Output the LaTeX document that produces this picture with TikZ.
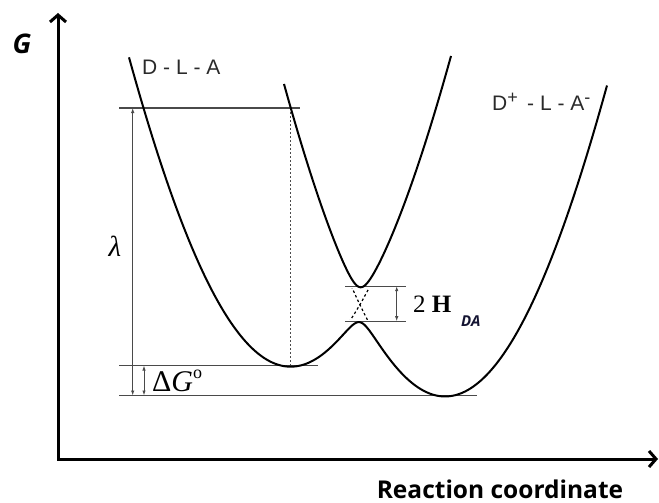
\documentclass[tikz,border=0pt]{standalone}
\usepackage{fontspec}
\setmainfont{Liberation Serif}
\newfontfamily\osans{Open Sans}
\newfontfamily\lsans{Liberation Sans}
\usetikzlibrary{arrows.meta}
\definecolor{lvl}{HTML}{4A4A4A}
\definecolor{lab}{HTML}{2A2A2A}
\definecolor{navy}{HTML}{141432}
\newcommand{\supr}[1]{\raisebox{0.36em}{\fontsize{18}{18}\selectfont #1}}
\begin{document}
\begin{tikzpicture}[x=1pt,y=-1pt,
  declare function={
    fq(\u)=125.76*\u*\u-2.585*\u*\u*\u*\u;
    Ea(\x)=365.5-fq((\x-290)/100);
    Eb(\x)=395.5-fq((\x-445.5)/100);
    Dd(\x)=(Ea(\x)-Eb(\x))/20;
    lowc(\x)=(Ea(\x)+Eb(\x))/2+10*sqrt(Dd(\x)*Dd(\x)+3.0625);
    upc(\x)=(Ea(\x)+Eb(\x))/2-10*sqrt(Dd(\x)*Dd(\x)+3.0625);
  },
  curve/.style={line width=2pt,black,line join=round},
  level/.style={line width=1.4pt,draw=lvl},
  dimarrow/.style={line width=0.9pt,draw=lvl,{Latex[length=5pt,width=3.5pt]}-{Latex[length=5pt,width=3.5pt]}},
  axisline/.style={line width=3pt,line join=miter,{Straight Barb[length=7pt,width=16pt]}-{Straight Barb[length=7pt,width=16pt]}},
  dotline/.style={line width=1pt,draw=lvl,dash pattern=on 1.5pt off 2.5pt},
  crossdash/.style={line width=1.2pt,black,dash pattern=on 2.5pt off 2.5pt},
  sanslab/.style={text=lab,inner sep=0pt,anchor=west,font=\lsans\fontsize{21}{21}\selectfont},
]
\useasboundingbox (0,0) rectangle (659,503);

% axes
\coordinate (O) at (58,459);
\coordinate (Ytip) at (58,13);
\coordinate (Xtip) at (658,459);
\draw[axisline] (Ytip) -- (O) -- (Xtip);
\node (G) at (22,44) {\osans\bfseries\itshape\fontsize{27}{27}\selectfont G};
\node[anchor=base,inner sep=0pt] (RC) at (500,498) {\osans\bfseries\fontsize{24.5}{24.5}\selectfont Reaction coordinate};

% level lines
\coordinate (lamL) at (119,108);   \coordinate (lamR) at (300,108);
\coordinate (g1L) at (119,365.5);  \coordinate (g1R) at (318,365.5);
\coordinate (g2L) at (119,395.5);  \coordinate (g2R) at (477,395.5);
\coordinate (hT1) at (345,286.2);  \coordinate (hT2) at (406,286.2);
\coordinate (hB1) at (345,321.2);  \coordinate (hB2) at (406,321.2);
\draw[level] (lamL) -- (lamR);
\draw[level] (g1L) -- (g1R);
\draw[level] (g2L) -- (g2R);
\draw[level] (hT1) -- (hT2);
\draw[level] (hB1) -- (hB2);

% dotted vertical
\coordinate (dotT) at (290,108);
\coordinate (dotB) at (290,365.5);
\draw[dotline] (dotT) -- (dotB);

% dimension arrows
\coordinate (lamA) at (132.7,108);   \coordinate (lamB) at (132.7,395.5);
\coordinate (dgA) at (144,365.5);    \coordinate (dgB) at (144,395.5);
\coordinate (hA) at (396.7,286.2);   \coordinate (hB) at (396.7,321.2);
\draw[dimarrow] (lamA) -- (lamB);
\draw[dimarrow] (dgA) -- (dgB);
\draw[dimarrow] (hA) -- (hB);

% curves
\draw[curve] plot[domain=129:607,samples=320] (\x,{lowc(\x)});
\draw[curve] plot[domain=284:451,samples=200] (\x,{upc(\x)});
\begin{scope}
  \clip (340,288) rectangle (385,319.5);
  \draw[crossdash] plot[domain=340:382,samples=40] (\x,{Ea(\x)});
  \draw[crossdash] plot[domain=338:380,samples=40] (\x,{Eb(\x)});
\end{scope}

% labels
\node (lam) at (115,246) {\fontsize{29}{29}\selectfont\itshape λ};
\node[anchor=west,inner sep=0pt] (dg) at (152,381) {\fontsize{30}{30}\selectfont Δ\textit{G}\raisebox{0.42em}{\fontsize{18}{18}\selectfont o}};
\node[anchor=west,inner sep=0pt] (hh) at (413,304) {\fontsize{25}{25}\selectfont 2 \textbf{H}};
\node[anchor=north west,inner sep=0pt,text=navy] (da) at (461,316) {\osans\bfseries\itshape\fontsize{15}{15}\selectfont DA};
\node[sanslab] (dla) at (142,67) {D - L - A};
\node[sanslab] (dpla) at (492,102) {D\supr{+}\, - L - A\supr{-}};
\end{tikzpicture}
\end{document}
